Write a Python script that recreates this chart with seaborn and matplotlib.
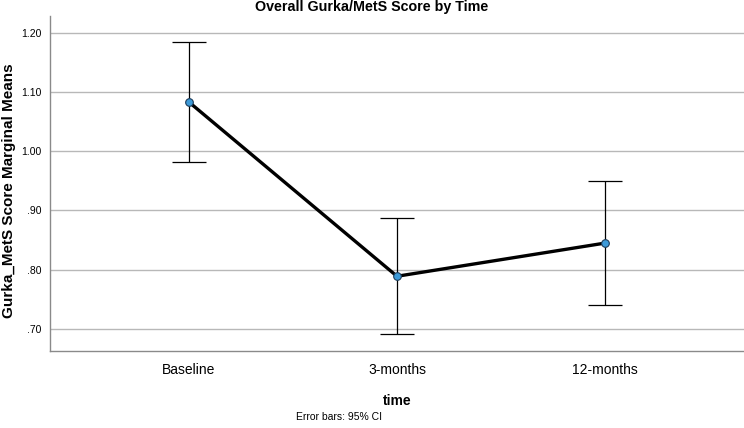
import numpy as np
import pandas as pd
import matplotlib
matplotlib.use("Agg")
import matplotlib.pyplot as plt
from matplotlib.ticker import FuncFormatter
import seaborn as sns

times = ["Baseline", "3-months", "12-months"]
means = [1.083, 0.789, 0.845]
ci_low = [0.982, 0.692, 0.740]
ci_high = [1.184, 0.887, 0.950]
y_ticks = [0.70, 0.80, 0.90, 1.00, 1.10, 1.20]

sns.set_theme(style="white")
plt.rcParams['font.family'] = ['Liberation Sans', 'DejaVu Sans']
for k in ['text.color', 'axes.labelcolor', 'xtick.color', 'ytick.color']:
    plt.rcParams[k] = 'black'

df = pd.DataFrame({'time': times, 'mean': means})

fig = plt.figure(figsize=(7.44, 4.28), dpi=100)
ax = fig.add_axes([0.0672, 0.18, 0.9328, 0.7826])

ax.yaxis.grid(True, color='#b8b8b8', linewidth=1.0)
ax.set_axisbelow(True)

x = np.arange(len(times))
yerr = [np.array(means) - np.array(ci_low), np.array(ci_high) - np.array(means)]
ax.errorbar(x, means, yerr=yerr, fmt='none', ecolor='black', elinewidth=0.9,
            capsize=12, capthick=0.9, zorder=2)

sns.pointplot(data=df, x='time', y='mean', order=times, errorbar=None,
              color='black', linewidth=2.4, markers='', ax=ax, zorder=3)
ax.plot(x, means, 'o', markersize=5.5, markerfacecolor='#3d9ad8',
        markeredgecolor='#1d3c5a', markeredgewidth=0.8, zorder=4)

ax.set_xlim(-0.667, 2.667)
ax.set_ylim(0.663, 1.228)
ax.set_yticks(y_ticks)
ax.yaxis.set_major_formatter(FuncFormatter(
    lambda v, p: ('%.2f' % v) if v >= 1 else ('%.2f' % v)[1:]))
ax.tick_params(axis='y', labelsize=7.5, length=0, pad=6)
ax.tick_params(axis='x', labelsize=10, length=0, pad=9)

for s in ['top', 'right']:
    ax.spines[s].set_visible(False)
for s in ['left', 'bottom']:
    ax.spines[s].set_color('#8a8a8a')
    ax.spines[s].set_linewidth(1.0)

ax.set_xlabel('time', fontsize=10, fontweight='bold', labelpad=12)
ax.set_ylabel('')
fig.text(0.012, 0.554, 'Gurka_MetS Score Marginal Means', ha='center', va='center',
         rotation=90, fontsize=11, fontweight='bold')
fig.text(0.5, 0.983, 'Overall Gurka/MetS Score by Time', ha='center', va='center',
         fontsize=10.3, fontweight='bold')
fig.text(0.455, 0.025, 'Error bars: 95% CI', ha='center', va='center', fontsize=7.5)

fig.savefig('out.png', dpi=100)
